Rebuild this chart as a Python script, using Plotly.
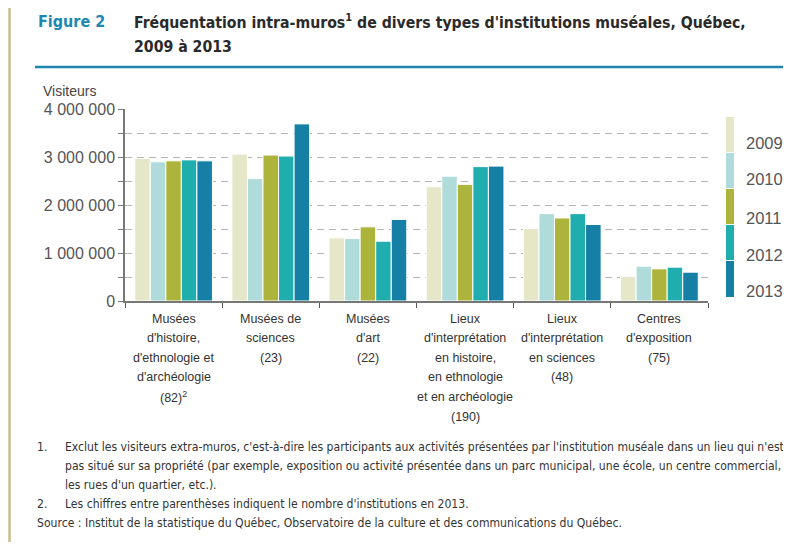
import plotly.graph_objects as go

categories = [
    "Musées<br>d'histoire,<br>d'ethnologie et<br>d'archéologie<br>(82)<sup>2</sup>",
    "Musées de<br>sciences<br>(23)",
    "Musées<br>d'art<br>(22)",
    "Lieux<br>d'interprétation<br>en histoire,<br>en ethnologie<br>et en archéologie<br>(190)",
    "Lieux<br>d'interprétation<br>en sciences<br>(48)",
    "Centres<br>d'exposition<br>(75)",
]
years = ["2009", "2010", "2011", "2012", "2013"]
v2009 = [2970000, 3060000, 1315000, 2380000, 1510000, 515000]
v2010 = [2900000, 2550000, 1300000, 2600000, 1820000, 725000]
v2011 = [2920000, 3040000, 1545000, 2430000, 1730000, 670000]
v2012 = [2940000, 3020000, 1246000, 2800000, 1820000, 705000]
v2013 = [2920000, 3690000, 1700000, 2810000, 1595000, 600000]
series = [v2009, v2010, v2011, v2012, v2013]
colors = ["#E5E7C8", "#B0DBDB", "#ADB43B", "#1FADAE", "#157FA6"]
ytickvals = [0, 1000000, 2000000, 3000000, 4000000]

# The page body has an 8px margin: figure size and positions account for it,
# and the figure is kept short enough that the page does not scroll.
OFF = 8
W, H = 791 - OFF, 550 - 2 * OFF
L, R, T, B = 117, 83, 101, 241
PW, PH = W - L - R, H - T - B


def px(x):
    """page pixel x -> paper coordinate"""
    return (x - OFF - L) / PW


def py(y):
    """page pixel y -> paper coordinate"""
    return (H - B - (y - OFF)) / PH


COND = "DejaVu Sans Condensed, DejaVu Sans, sans-serif"
SANS = "Liberation Sans, Arial, sans-serif"

fig = go.Figure()
for yr, vals, c in zip(years, series, colors):
    fig.add_trace(go.Bar(x=categories, y=vals, name=yr,
                         marker=dict(color=c, line=dict(color="white", width=1)),
                         showlegend=False))

fig.update_layout(
    width=W, height=H,
    margin=dict(l=L, r=R, t=T, b=B, pad=0),
    paper_bgcolor="white", plot_bgcolor="white",
    barmode="group", bargap=0.2, bargroupgap=0,
    separators=", ",
    font=dict(family=SANS, size=13, color="#333333"),
)
fig.update_yaxes(
    range=[0, 4000000], tickvals=ytickvals, tickformat=",d",
    tickfont=dict(family=SANS, size=16, color="#555555"),
    showgrid=True, gridcolor="#B4B4B4", griddash="7px,5px", gridwidth=1,
    ticks="outside", ticklen=5, tickcolor="#777777",
    minor=dict(dtick=500000, showgrid=True, gridcolor="#B4B4B4", griddash="7px,5px",
               ticks="outside", ticklen=5, tickcolor="#777777"),
    showline=True, linecolor="#777777", linewidth=1.5, zeroline=False,
)
fig.update_xaxes(
    type="category", tickson="boundaries", ticks="outside", ticklen=5, tickcolor="#555555",
    showline=True, linecolor="#777777", linewidth=1.5, showgrid=False,
    showticklabels=False,
)

shapes = []
# page border (beige)
shapes.append(dict(type="line", xref="paper", yref="paper", x0=px(8), x1=px(800), y0=py(5), y1=py(5),
                   line=dict(color="#C8BD92", width=2)))
shapes.append(dict(type="line", xref="paper", yref="paper", x0=px(9.5), x1=px(9.5), y0=py(4), y1=py(560),
                   line=dict(color="#C8BD92", width=2.5)))
# blue rule under title
shapes.append(dict(type="line", xref="paper", yref="paper", x0=px(35), x1=px(800), y0=py(67), y1=py(67),
                   line=dict(color="#1E86AE", width=2.5)))
# legend swatches
sw_top = [117, 153, 189, 225, 261]
sw_bot = [152, 188, 224, 260, 297]
lab_y = [143, 179, 218, 255, 291]
for c, t0, b0 in zip(colors, sw_top, sw_bot):
    shapes.append(dict(type="rect", xref="paper", yref="paper", x0=px(726), x1=px(734), y0=py(b0), y1=py(t0),
                       fillcolor=c, line=dict(width=0)))

annotations = []


def page_text(text, x, y, font, xanchor="left"):
    annotations.append(dict(text=text, x=px(x), y=py(y), xref="paper", yref="paper",
                            xanchor=xanchor, yanchor="middle", showarrow=False, font=font))


page_text("<b>Figure 2</b>", 36, 21, dict(family=COND, size=16, color="#1C88B2"))
page_text("<b>Fréquentation intra-muros<sup>1</sup> de divers types d'institutions muséales, Québec,</b>",
          132, 21, dict(family=COND, size=15.7, color="#2A2A2A"))
page_text("<b>2009 à 2013</b>", 132, 46, dict(family=COND, size=15.7, color="#2A2A2A"))
page_text("Visiteurs", 41, 91, dict(family=SANS, size=14, color="#444444"))
for yr, ly in zip(years, lab_y):
    page_text(yr, 744, ly, dict(family=SANS, size=16.5, color="#555555"))

# category labels, one line at a time
line0, lstep = 318.5, 19.6
for cat in categories:
    for i, ln in enumerate(cat.split("<br>")):
        annotations.append(dict(text=ln, x=cat, xref="x", y=py(line0 + i * lstep), yref="paper",
                                xanchor="center", yanchor="middle", showarrow=False,
                                font=dict(family=SANS, size=12.5, color="#333333")))

foot = [
    (35, 447, "1."),
    (63, 447, "Exclut les visiteurs extra-muros, c'est-à-dire les participants aux activités présentées par l'institution muséale dans un lieu qui n'est"),
    (63, 466, "pas situé sur sa propriété (par exemple, exposition ou activité présentée dans un parc municipal, une école, un centre commercial,"),
    (63, 485, "les rues d'un quartier, etc.)."),
    (35, 504, "2."),
    (63, 504, "Les chiffres entre parenthèses indiquent le nombre d'institutions en 2013."),
    (35, 523, "Source : Institut de la statistique du Québec, Observatoire de la culture et des communications du Québec."),
]
for x0, y0, t in foot:
    page_text(t, x0, y0, dict(family=COND, size=12.1, color="#333333"))

fig.update_layout(shapes=shapes, annotations=annotations)
fig.write_html("out.html")
